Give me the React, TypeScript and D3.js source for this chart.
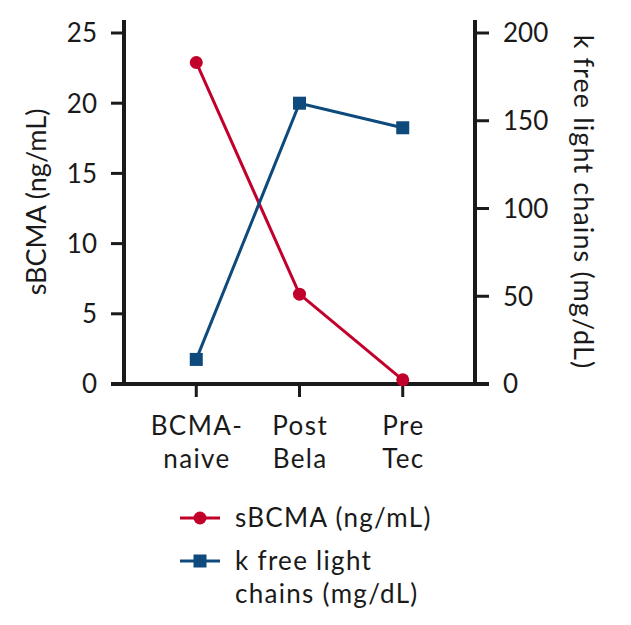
import * as d3 from "d3"

const categories = [["BCMA-", "naive"], ["Post", "Bela"], ["Pre", "Tec"]]
const sbcmaValues = [22.9, 6.4, 0.3]
const kflcValues = [14, 160, 146]
const leftTicks = [0, 5, 10, 15, 20, 25]
const rightTicks = [0, 50, 100, 150, 200]

const W = 631
const H = 625
const LEFT = 124
const RIGHT = 475
const TOP = 33
const BOTTOM = 384
const RED = "#c1002b"
const BLUE = "#0e4a7c"
const INK = "#1a1a1a"
const FONT = "Lato, sans-serif"

export default function App() {
  const keys = categories.map((c) => c.join(" "))
  const x = d3.scalePoint<string>().domain(keys).range([LEFT, RIGHT]).padding(0.7)
  const yL = d3.scaleLinear().domain([0, 25]).range([BOTTOM, TOP])
  const yR = d3.scaleLinear().domain([0, 200]).range([BOTTOM, TOP])

  const lineL = d3
    .line<number>()
    .x((_, i) => x(keys[i])!)
    .y((d) => yL(d))
  const lineR = d3
    .line<number>()
    .x((_, i) => x(keys[i])!)
    .y((d) => yR(d))

  return (
    <svg width={W} height={H} style={{ position: "absolute", left: 0, top: 0, background: "#fff" }}>
      <g fontFamily={FONT} fill={INK}>
        {/* axes */}
        <line x1={LEFT} x2={LEFT} y1={20} y2={BOTTOM} stroke={INK} strokeWidth={4} />
        <line x1={RIGHT} x2={RIGHT} y1={20} y2={BOTTOM} stroke={INK} strokeWidth={4} />
        <line x1={LEFT - 13} x2={RIGHT + 14} y1={BOTTOM} y2={BOTTOM} stroke={INK} strokeWidth={4} />

        {leftTicks.map((t) => (
          <g key={"l" + t}>
            <line x1={LEFT - 13} x2={LEFT} y1={yL(t)} y2={yL(t)} stroke={INK} strokeWidth={3} />
            <text x={97} y={yL(t)} dy="0.36em" textAnchor="end" fontSize={26}>
              {t}
            </text>
          </g>
        ))}
        {rightTicks.map((t) => (
          <g key={"r" + t}>
            <line x1={RIGHT} x2={RIGHT + 14} y1={yR(t)} y2={yR(t)} stroke={INK} strokeWidth={3} />
            <text x={503} y={yR(t)} dy="0.36em" textAnchor="start" fontSize={26}>
              {t}
            </text>
          </g>
        ))}
        {categories.map((c, i) => (
          <g key={"c" + i} fontSize={26} letterSpacing={1.4}>
            <line x1={x(keys[i])} x2={x(keys[i])} y1={BOTTOM} y2={BOTTOM + 13} stroke={INK} strokeWidth={3} />
            <text x={x(keys[i])! + 0.7} y={435} textAnchor="middle">
              {c[0]}
            </text>
            <text x={x(keys[i])! + 0.7} y={468} textAnchor="middle">
              {c[1]}
            </text>
          </g>
        ))}

        <text transform={`translate(46,202) rotate(-90)`} textAnchor="middle" fontSize={27}>
          sBCMA (ng/mL)
        </text>
        <text transform={`translate(574,202) rotate(90)`} textAnchor="middle" fontSize={27} letterSpacing={1.1}>
          k free light chains (mg/dL)
        </text>

        {/* series */}
        <path d={lineL(sbcmaValues)!} fill="none" stroke={RED} strokeWidth={3} />
        <path d={lineR(kflcValues)!} fill="none" stroke={BLUE} strokeWidth={3} />
        {sbcmaValues.map((v, i) => (
          <circle key={"s" + i} cx={x(keys[i])} cy={yL(v)} r={6.5} fill={RED} />
        ))}
        {kflcValues.map((v, i) => (
          <rect key={"k" + i} x={x(keys[i])! - 6.5} y={yR(v) - 6.5} width={13} height={13} fill={BLUE} />
        ))}

        {/* legend */}
        <line x1={180} x2={220} y1={518} y2={518} stroke={RED} strokeWidth={3} />
        <circle cx={200} cy={518} r={6.5} fill={RED} />
        <g fontSize={26} letterSpacing={1.3}>
          <text x={235} y={527}>
            sBCMA (ng/mL)
          </text>
          <text x={235} y={570}>
            k free light
          </text>
          <text x={235} y={603}>
            chains (mg/dL)
          </text>
        </g>
        <line x1={180} x2={220} y1={561} y2={561} stroke={BLUE} strokeWidth={3} />
        <rect x={193.5} y={554.5} width={13} height={13} fill={BLUE} />
      </g>
    </svg>
  )
}
